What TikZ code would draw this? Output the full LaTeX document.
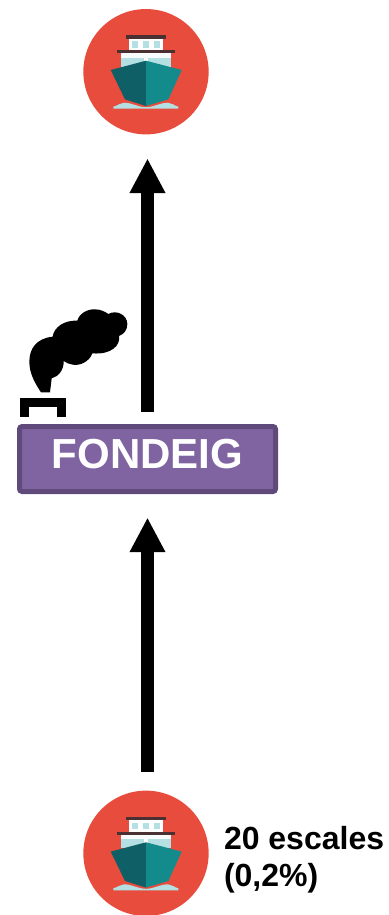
\documentclass[tikz,border=0pt]{standalone}
\usepackage{fontspec}
\setmainfont{Liberation Sans}
\usetikzlibrary{arrows.meta}
\definecolor{shipred}{HTML}{E74C3C}
\definecolor{hulldark}{HTML}{0F5F66}
\definecolor{hulllight}{HTML}{138A8C}
\definecolor{deckdark}{HTML}{4A2F33}
\definecolor{glass}{HTML}{B5E0E3}
\definecolor{boxfill}{HTML}{8064A2}
\definecolor{boxline}{HTML}{604A7B}
\tikzset{
  shipdisc/.style={circle,fill=shipred,draw=none,minimum size=94pt,inner sep=0pt,outer sep=0pt},
  bigarrow/.style={line width=9.3pt,black,-{Triangle[width=25pt,length=26pt]}},
  stagebox/.style={rectangle,rounded corners=2pt,draw=boxline,fill=boxfill,line width=3.75pt,
    minimum width=192pt,minimum height=48.75pt,inner sep=0pt,outer sep=0pt,text=white,
    font=\bfseries\fontsize{31.5}{31.5}\selectfont,text height=21pt,text depth=7pt},
  countlabel/.style={align=left,inner sep=0pt,outer sep=0pt,
    font=\bfseries\fontsize{24}{27.75}\selectfont},
  shipicon/.pic={
    \fill[deckdark] (-20,-36.7) rectangle (20,-33);
    \fill[white] (-17.3,-33) rectangle (17.3,-21.7);
    \fill[glass] (-13.7,-30.3) rectangle (-7.7,-24);
    \fill[glass] (-2.7,-30.3) rectangle (3.3,-24);
    \fill[glass] (8,-30.3) rectangle (14,-24);
    \fill[deckdark] (-29,-21.7) rectangle (29,-18.3);
    \fill[white!92!glass] (-25.3,-18.3) rectangle (25.3,-5);
    \fill[glass] (-25.3,-14) rectangle (-2,-5);
    \fill[glass] (2,-14) rectangle (25.3,-5);
    \fill[hulldark] (-35.3,-1.7) -- (0,-11) -- (0,34.3) -- (-21,27.7) -- cycle;
    \fill[hulllight] (0,-11) -- (35.7,-1.7) -- (22.3,27.7) -- (0,34.3) -- cycle;
    \fill[glass] (-32.7,37) -- (-32.7,35) .. controls (-28,34) and (-26,31) .. (-22,31)
      .. controls (-14,31) and (-8,35.5) .. (0,35.5)
      .. controls (8,35.5) and (14,31) .. (22,31)
      .. controls (26,31) and (28,34) .. (32.3,35) -- (32.3,37) -- cycle;
  }
}
\begin{document}
\begin{tikzpicture}[x=0.75pt,y=-0.75pt]
\useasboundingbox (0,0) rectangle (389,915);
\node[shipdisc] (shiptop) at (146,71.7) {};
\pic at (shiptop.center) {shipicon};
\node[shipdisc] (shipbottom) at (146,853.3) {};
\pic at (shipbottom.center) {shipicon};
\node[stagebox] (stage) at (147.5,459) {FONDEIG};
\draw[bigarrow,shorten <=14pt,shorten >=19.5pt] (shipbottom.north -| stage.north) -- (stage.south);
\draw[bigarrow,shorten <=11pt,shorten >=18pt] (stage.north) -- (shiptop.south -| stage.north);
\node[countlabel,anchor=west] (count) at (224,860) {20 escales\\(0,2\%)};
% chimney
\fill (20,398.3) rectangle (65.7,417);
\fill[white] (29.3,407.3) rectangle (56.7,417.5);
% smoke
\begin{scope}[shift={(0,290)},x=0.25pt,y=-0.25pt]
  \fill (123,307) .. controls (105,280) and (88,250) .. (88,215)
    .. controls (88,175) and (110,145) .. (158,140)
    .. controls (162,110) and (195,90) .. (232,92)
    .. controls (238,70) and (262,57) .. (285,58)
    .. controls (302,58) and (315,65) .. (325,72)
    .. controls (350,58) and (382,75) .. (382,102)
    .. controls (382,120) and (372,132) .. (357,138)
    .. controls (362,165) and (335,195) .. (277,190)
    .. controls (268,215) and (240,228) .. (218,224)
    .. controls (208,223) and (198,218) .. (191,213)
    .. controls (192,240) and (175,260) .. (155,265)
    -- (150,307) -- cycle;
\end{scope}
\end{tikzpicture}
\end{document}
